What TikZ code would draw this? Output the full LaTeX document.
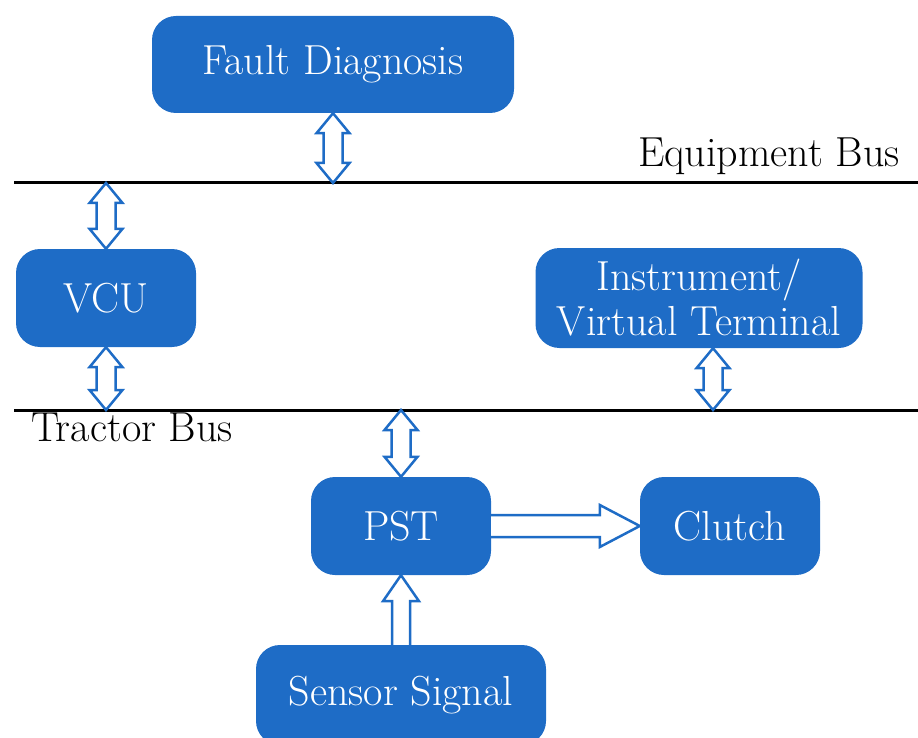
\documentclass[tikz,border=0pt]{standalone}
\usetikzlibrary{calc}
\definecolor{boxblue}{RGB}{30,108,198}
\tikzset{
  block/.style={draw=none,fill=boxblue,text=white,rounded corners=24pt,align=center,
    font=\fontsize{42}{45}\selectfont},
  buslabel/.style={font=\fontsize{42}{45}\selectfont,inner sep=0pt},
  busline/.style={line width=3pt,black},
  hollow/.style={draw=boxblue,fill=white,line width=2.5pt,line join=miter}
}
% hollow double arrow, #1 = upper tip, #2 = lower tip
\newcommand{\dblarrow}[2]{%
  \draw[hollow] (#1) -- ($(#1)+(-16.5,20)$) -- ($(#1)+(-9.5,20)$) -- ($(#2)+(-9.5,-20)$)
    -- ($(#2)+(-16.5,-20)$) -- (#2) -- ($(#2)+(16.5,-20)$) -- ($(#2)+(9.5,-20)$)
    -- ($(#1)+(9.5,20)$) -- ($(#1)+(16.5,20)$) -- cycle;}
\begin{document}
\begin{tikzpicture}[x=1pt,y=-1pt]
        \useasboundingbox (0,0) rectangle (918,738);
        \clip (0,0) rectangle (918,738);
        % buses
        \coordinate (eqL) at (14,183);
        \coordinate (eqR) at (918,183);
        \coordinate (trL) at (14,410);
        \coordinate (trR) at (918,410);
        \draw[busline] (eqL) -- (eqR);
        \draw[busline] (trL) -- (trR);
        \node[buslabel,anchor=base east] (eqlabel) at (900,167) {Equipment Bus};
        \node[buslabel,anchor=base west] (trlabel) at (31,441) {Tractor Bus};
        % units
        \node[block,minimum width=362pt,minimum height=97pt] (fault) at (333,64.5) {Fault Diagnosis};
        \node[block,minimum width=180pt,minimum height=98pt] (vcu) at (106,298) {VCU};
        \node[block,minimum width=327pt,minimum height=100pt,inner sep=0pt] (inst) at (699,298) {Instrument/\\Virtual Terminal};
        \node[block,minimum width=180pt,minimum height=98pt] (pst) at (401,526) {PST};
        \node[block,minimum width=180pt,minimum height=98pt] (clutch) at (730,526) {Clutch};
        \node[block,minimum width=290pt,minimum height=100pt] (sensor) at (401,695) {Sensor Signal};
        % bus connections
        \dblarrow{fault.south}{fault.south |- eqL}
        \dblarrow{vcu.north |- eqL}{vcu.north}
        \dblarrow{vcu.south}{vcu.south |- trL}
        \coordinate (instport) at ([xshift=14pt]inst.south);
        \dblarrow{instport}{instport |- trL}
        \dblarrow{pst.north |- trL}{pst.north}
        % PST to clutch
        \coordinate (p1) at (pst.east);
        \draw[hollow] ($(p1)+(0,-11)$) -- ($(clutch.west)+(-40,-11)$) -- ($(clutch.west)+(-40,-21)$)
          -- (clutch.west) -- ($(clutch.west)+(-40,21)$) -- ($(clutch.west)+(-40,11)$)
          -- ($(p1)+(0,11)$);
        % sensor to PST
        \draw[hollow] ($(sensor.north)+(-9,0)$) -- ($(pst.south)+(-9,26)$) -- ($(pst.south)+(-18,26)$)
          -- (pst.south) -- ($(pst.south)+(18,26)$) -- ($(pst.south)+(9,26)$)
          -- ($(sensor.north)+(9,0)$);
\end{tikzpicture}
\end{document}
